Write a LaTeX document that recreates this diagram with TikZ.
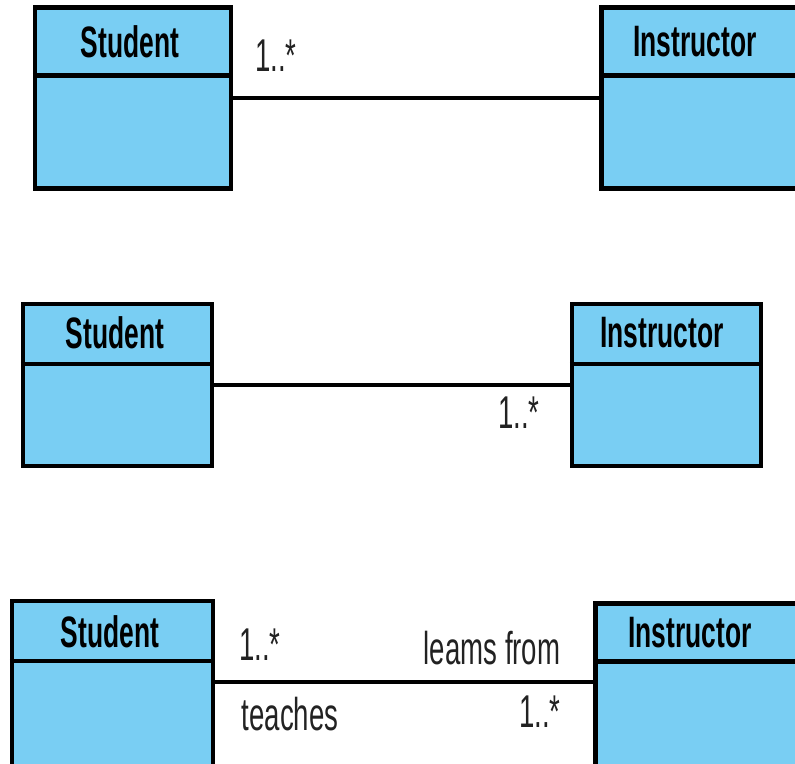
\documentclass[tikz,border=0pt]{standalone}
\usepackage{fontspec}
\setmainfont[FakeStretch=0.6]{Liberation Sans}
\definecolor{classfill}{HTML}{79CEF3}
\definecolor{labelgray}{HTML}{222222}
\tikzset{
  classbox/.style={draw=black, fill=classfill, line width=4.5pt, rectangle, inner sep=0pt},
  classname/.style={inner sep=0pt, font=\fontsize{44}{44}\selectfont\bfseries},
  rolelabel/.style={inner sep=0pt, text=labelgray, font=\fontsize{46}{46}\selectfont},
  assoc/.style={line width=4pt, draw=black}
}
\begin{document}
\begin{tikzpicture}[x=1pt, y=-1pt]
\useasboundingbox (0,0) rectangle (795,763);

% ---- first pair: multiplicity at the Student end
\node[classbox, minimum width=196pt, minimum height=181pt] (s1) at (133,98) {};
\node[classbox, minimum width=200pt, minimum height=181pt, anchor=west] (i1) at (599,98) {};
\draw[line width=4.5pt] (s1.west |- 0,75.5) -- (s1.east |- 0,75.5);
\draw[line width=4.5pt] (i1.west |- 0,75.5) -- (i1.east |- 0,75.5);
\node[classname] (s1n) at (130,42) {Student};
\node[classname] (i1n) at (695,42) {Instructor};
\draw[assoc] (s1.east) -- (i1.west);
\node[rolelabel] (m1) at (276,56) {1..*};

% ---- second pair: multiplicity at the Instructor end
\node[classbox, minimum width=189pt, minimum height=162pt] (s2) at (117.5,385) {};
\node[classbox, minimum width=189pt, minimum height=162pt] (i2) at (666.5,385) {};
\draw[line width=4.5pt] (s2.west |- 0,364) -- (s2.east |- 0,364);
\draw[line width=4.5pt] (i2.west |- 0,364) -- (i2.east |- 0,364);
\node[classname] (s2n) at (115,333) {Student};
\node[classname] (i2n) at (662,333) {Instructor};
\draw[assoc] (s2.east) -- (i2.west);
\node[rolelabel] (m2) at (519,413) {1..*};

% ---- third pair: both ends with role names
\node[classbox, minimum width=201pt, minimum height=172pt] (s3) at (112.5,687) {};
\node[classbox, minimum width=210pt, minimum height=170pt, anchor=north west] (i3) at (593,601) {};
\draw[line width=4.5pt] (s3.west |- 0,661) -- (s3.east |- 0,661);
\draw[line width=4.5pt] (i3.west |- 0,661.5) -- (i3.east |- 0,661.5);
\node[classname] (s3n) at (110,632) {Student};
\node[classname] (i3n) at (690,633) {Instructor};
\coordinate (a3) at (0,682);
\draw[assoc] (s3.east |- a3) -- (i3.west |- a3);
\node[rolelabel] (m3a) at (260,645) {1..*};
\node[rolelabel] (r3a) at (492,648) {leams from};
\node[rolelabel] (r3b) at (290,714) {teaches};
\node[rolelabel] (m3b) at (540,712) {1..*};
\end{tikzpicture}
\end{document}
